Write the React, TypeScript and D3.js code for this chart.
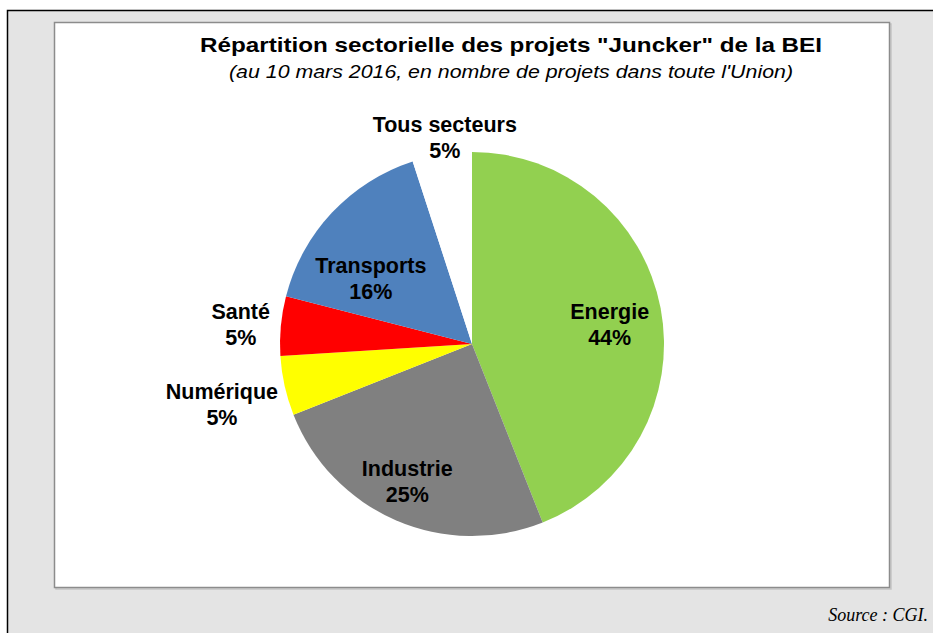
import React from "react";
import * as d3 from "d3";

// secteurs et parts (% du nombre de projets)
const sectors = ["Energie", "Industrie", "Numérique", "Santé", "Transports", "Tous secteurs"];
const shares = [44, 25, 5, 5, 16, 5];
const colors = ["#92d050", "#808080", "#ffff00", "#ff0000", "#4f81bd", "#ffffff"];

// placement des étiquettes : rayon relatif + petit décalage (comme Excel "au mieux")
const labelRadius = [0.73, 0.81, 1.34, 1.21, 0.68, 1.04];
const labelShift: [number, number][] = [[0, 7], [-3, -5], [1, 5], [0, 3], [-6, 24], [4, -9]];

const W = 933;
const H = 633;

export default function App() {
  const cx = 472;
  const cy = 344;
  const R = 192;

  const pie = d3.pie<number>().sort(null).value(d => d).startAngle(0).endAngle(2 * Math.PI);
  const arcs = pie(shares);
  const arc = d3.arc<d3.PieArcDatum<number>>().innerRadius(0).outerRadius(R);

  const font = "'Liberation Sans', Arial, sans-serif";

  return (
    <svg width={W} height={H} style={{ position: "absolute", left: 0, top: 0 }}>
      {/* fond du document */}
      <rect x={0} y={0} width={W} height={H} fill="#ffffff" />
      <rect x={7.5} y={10.5} width={W + 10} height={H + 10} fill="#e4e4e4" stroke="#000" strokeWidth={1.5} />
      {/* cadre du graphique */}
      <rect x={56} y={24} width={835} height={565} fill="none" stroke="#c4c4c4" strokeWidth={1.5} />
      <rect x={54.5} y={22.5} width={835} height={565} fill="#ffffff" stroke="#8c8c8c" strokeWidth={1.5} />

      <text x={511} y={52} textAnchor="middle" fontFamily={font} fontWeight="bold" fontSize={21}
        textLength={622} lengthAdjust="spacingAndGlyphs" fill="#000">
        Répartition sectorielle des projets "Juncker" de la BEI
      </text>
      <text x={511} y={78} textAnchor="middle" fontFamily={font} fontStyle="italic" fontSize={19}
        textLength={564} lengthAdjust="spacingAndGlyphs" fill="#000">
        (au 10 mars 2016, en nombre de projets dans toute l'Union)
      </text>

      <g transform={`translate(${cx},${cy})`}>
        {arcs.map((a, i) => (
          <path key={sectors[i]} d={arc(a) || ""} fill={colors[i]} />
        ))}
        {arcs.map((a, i) => {
          const r = R * labelRadius[i];
          const [lx, ly] = d3.arc<d3.PieArcDatum<number>>().innerRadius(r).outerRadius(r).centroid(a);
          const x = lx + labelShift[i][0];
          const y = ly + labelShift[i][1];
          return (
            <text key={"l" + i} x={x} textAnchor="middle" fontFamily={font} fontWeight="bold" fontSize={21.5} fill="#000">
              <tspan x={x} y={y - 6}>{sectors[i]}</tspan>
              <tspan x={x} y={y + 20}>{shares[i]}%</tspan>
            </text>
          );
        })}
      </g>

      <text x={928} y={621} textAnchor="end" fontFamily="'Liberation Serif', 'Times New Roman', serif" fontStyle="italic" fontSize={18} fill="#000">
        Source : CGI.
      </text>
    </svg>
  );
}
